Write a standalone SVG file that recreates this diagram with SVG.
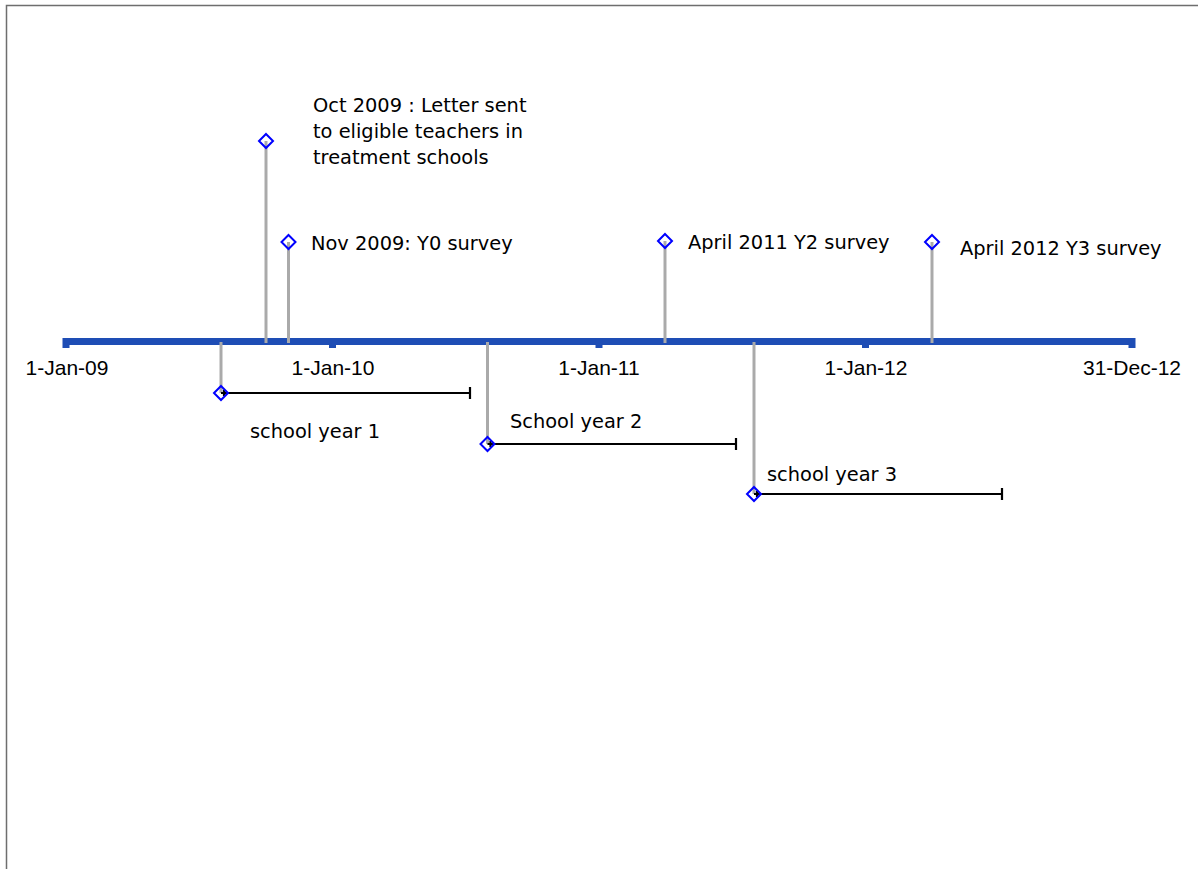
<svg xmlns="http://www.w3.org/2000/svg" width="1198" height="869" viewBox="0 0 1198 869">
<style>
.lbl{font-family:"DejaVu Sans",sans-serif;font-size:19.4px;fill:#000}
.ax{font-family:"Liberation Sans",Arial,sans-serif;font-size:21px;fill:#000;text-anchor:middle}
.stem{stroke:#aaaaaa;stroke-width:3;fill:none}
.bar{stroke:#000;stroke-width:2.2;fill:none}
.dia{stroke:#0000ff;stroke-width:2;fill:none}
</style>
<defs>
<path id="d" d="M0,-7 L7,0 L0,7 L-7,0 Z" class="dia"/>
</defs>
<rect x="0" y="0" width="1198" height="869" fill="#fff"/>
<path d="M6.5,869 V5.5 H1198" fill="none" stroke="#6e6e6e" stroke-width="1.5"/>
<g id="axis">
<rect x="66" y="338" width="1067" height="7" fill="#1e4db5"/>
<rect x="62.5" y="338" width="7" height="10" fill="#1e4db5"/>
<rect x="329" y="338" width="7" height="10" fill="#1e4db5"/>
<rect x="595.5" y="338" width="7" height="10" fill="#1e4db5"/>
<rect x="862" y="338" width="7" height="10" fill="#1e4db5"/>
<rect x="1128.5" y="338" width="7" height="10" fill="#1e4db5"/>
<text class="ax" x="67" y="375">1-Jan-09</text>
<text class="ax" x="333" y="375">1-Jan-10</text>
<text class="ax" x="599" y="375">1-Jan-11</text>
<text class="ax" x="866" y="375">1-Jan-12</text>
<text class="ax" x="1132" y="375">31-Dec-12</text>
</g>
<g id="connectors">
<line class="stem" x1="266" y1="141" x2="266" y2="343"/>
<line class="stem" x1="288.5" y1="242" x2="288.5" y2="343"/>
<line class="stem" x1="665" y1="241" x2="665" y2="343"/>
<line class="stem" x1="932" y1="242" x2="932" y2="343"/>
<line class="stem" x1="221" y1="342" x2="221" y2="393"/>
<line class="stem" x1="487.5" y1="342" x2="487.5" y2="444"/>
<line class="stem" x1="754" y1="342" x2="754" y2="494"/>
</g>
<g id="oct2009">
<use href="#d" x="266" y="141"/>
<text class="lbl" x="313" y="112">Oct 2009 : Letter sent</text>
<text class="lbl" x="313" y="138">to eligible teachers in</text>
<text class="lbl" x="313" y="164">treatment schools</text>
</g>
<g id="nov2009">
<use href="#d" x="288.5" y="242"/>
<text class="lbl" x="311" y="250">Nov 2009: Y0 survey</text>
</g>
<g id="apr2011">
<use href="#d" x="665" y="241"/>
<text class="lbl" x="688" y="249">April 2011 Y2 survey</text>
</g>
<g id="apr2012">
<use href="#d" x="932" y="242"/>
<text class="lbl" x="960" y="255">April 2012 Y3 survey</text>
</g>
<g id="year1">
<path class="bar" d="M221,393 H470 M470,387 V399 M224,390 V396"/>
<use href="#d" x="221" y="393"/>
<text class="lbl" x="250" y="438">school year 1</text>
</g>
<g id="year2">
<path class="bar" d="M487.5,444 H736 M736,438 V450 M490.5,441 V447"/>
<use href="#d" x="487.5" y="444"/>
<text class="lbl" x="510" y="428">School year 2</text>
</g>
<g id="year3">
<path class="bar" d="M754,494 H1002 M1002,488 V500 M757,491 V497"/>
<use href="#d" x="754" y="494"/>
<text class="lbl" x="767" y="481">school year 3</text>
</g>
</svg>
